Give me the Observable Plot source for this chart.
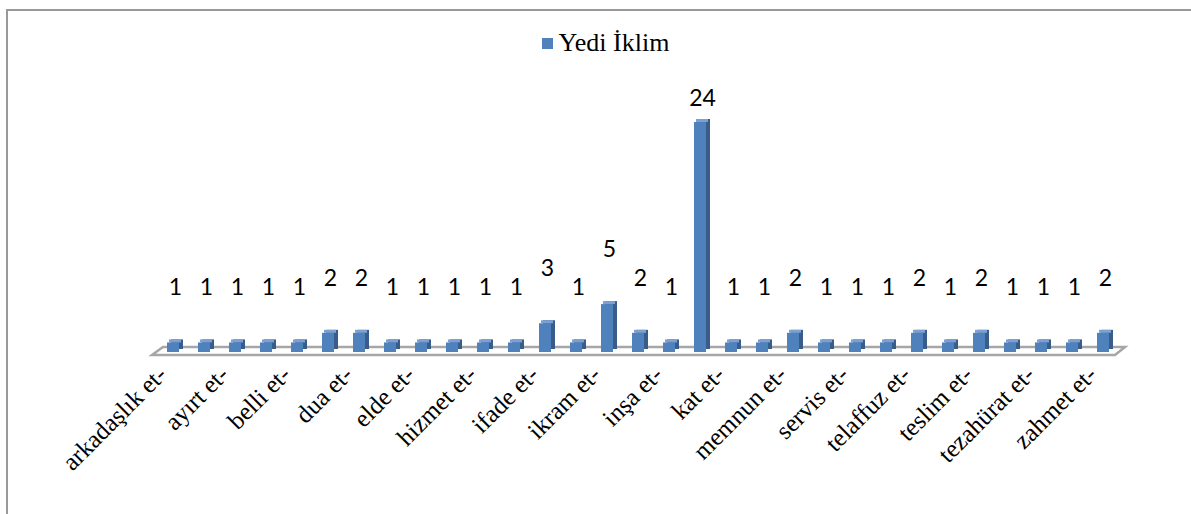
<!DOCTYPE html>
<html>
<head>
<meta charset="utf-8">
<script src="https://cdn.jsdelivr.net/npm/d3@7"></script>
<script src="https://cdn.jsdelivr.net/npm/@observablehq/plot@0.6"></script>
<style>
  html, body { margin: 0; padding: 0; background: #fff; }
  #page { position: relative; width: 1191px; height: 514px; overflow: hidden; }
  #frame { position: absolute; left: 6px; top: 9px; width: 1300px; height: 700px; border: 2px solid #999; box-sizing: border-box; }
  #legend { position: absolute; left: 20px; top: 28px; width: 1171px; display: flex; justify-content: center; align-items: center;
            font-family: 'Liberation Serif', 'DejaVu Serif', serif; font-size: 26px; color: #000; }
  #legend .sw { width: 11px; height: 11px; background: #4F81BD; margin-right: 6px; }
  #chart { position: absolute; left: 0; top: 75px; }
</style>
</head>
<body>
<div id="page">
  <div id="frame"></div>
  <div id="legend"><span class="sw"></span><span>Yedi İklim</span></div>
  <div id="chart"></div>
</div>
<script>
// Series "Yedi İklim": one value per category (31 categories, every other label shown on the axis)
const seriesName = "Yedi İklim";
const values = [1, 1, 1, 1, 1, 2, 2, 1, 1, 1, 1, 1, 3, 1, 5, 2, 1, 24, 1, 1, 2, 1, 1, 1, 2, 1, 2, 1, 1, 1, 2];
// Axis tick labels as printed (shown on every second category)
const tickLabels = ["arkadaşlık et-", "ayırt et-", "belli et-", "dua et-", "elde et-", "hizmet et-", "ifade et-", "ikram et-",
                    "inşa et-", "kat et-", "memnun et-", "servis et-", "telaffuz et-", "teslim et-", "tezahürat et-", "zahmet et-"];

const data = values.map((v, i) => ({i, v}));
const idx = d3.range(values.length);

const floor = (index, scales, channels, dimensions) => {
  const y0 = scales.y(0);
  const L = dimensions.marginLeft, R = dimensions.width - dimensions.marginRight;
  const g = d3.create("svg:g");
  g.append("path")
    .attr("d", `M${L + 15},${y0 - 5}L${R - 3},${y0 - 5}L${R - 13},${y0 + 3}L${L + 4},${y0 + 3}Z`)
    .attr("fill", "#fff").attr("stroke", "#a6a6a6").attr("stroke-width", 2.5);
  return g.node();
};

const chart = Plot.plot({
  width: 1191,
  height: 439,
  marginLeft: 148,
  marginRight: 63,
  marginTop: 47,
  marginBottom: 162,
  style: {background: "transparent", overflow: "visible"},
  x: {type: "band", domain: idx, padding: 0.613, axis: null},
  y: {domain: [0, 24], axis: null},
  marks: [
    floor,
    // side face (3D depth)
    Plot.rectY(data, {x: "i", y: "v", fill: "#385D8A", dx: 4, dy: -3}),
    // front face
    Plot.rectY(data, {x: "i", y: "v", fill: "#4F81BD"}),
    // top face
    Plot.rectY(data, {x: "i", y1: "v", y2: "v", insetTop: -3, dx: 2, fill: "#7BA0D4"}),
    Plot.text(data.filter(d => d.v < 10), {x: "i", y: "v", text: "v", dy: -55, dx: 2, fill: "#000"}),
    Plot.text(data.filter(d => d.v >= 10), {x: "i", y: "v", text: "v", dy: -24, dx: 2, fill: "#000"}),
    Plot.axisX(idx, {
      tickFormat: i => (i % 2 === 0 ? tickLabels[i / 2] : ""),
      tickRotate: -45,
      tickSize: 0,
      tickPadding: 7,
      textAnchor: "end",
      label: null,
      fill: "#000",
      dx: -11,
      dy: 11
    })
  ]
});
// typography
const svg = d3.select(chart);
svg.selectAll("g[aria-label='text'] text")
  .style("font-size", "23px").style("font-family", "Lato, 'Open Sans', sans-serif");
svg.selectAll("g[aria-label='x-axis tick label'] text")
  .style("font-size", "25px").style("font-family", "'Liberation Serif', 'DejaVu Serif', serif");
document.getElementById("chart").appendChild(chart);
</script>
</body>
</html>
